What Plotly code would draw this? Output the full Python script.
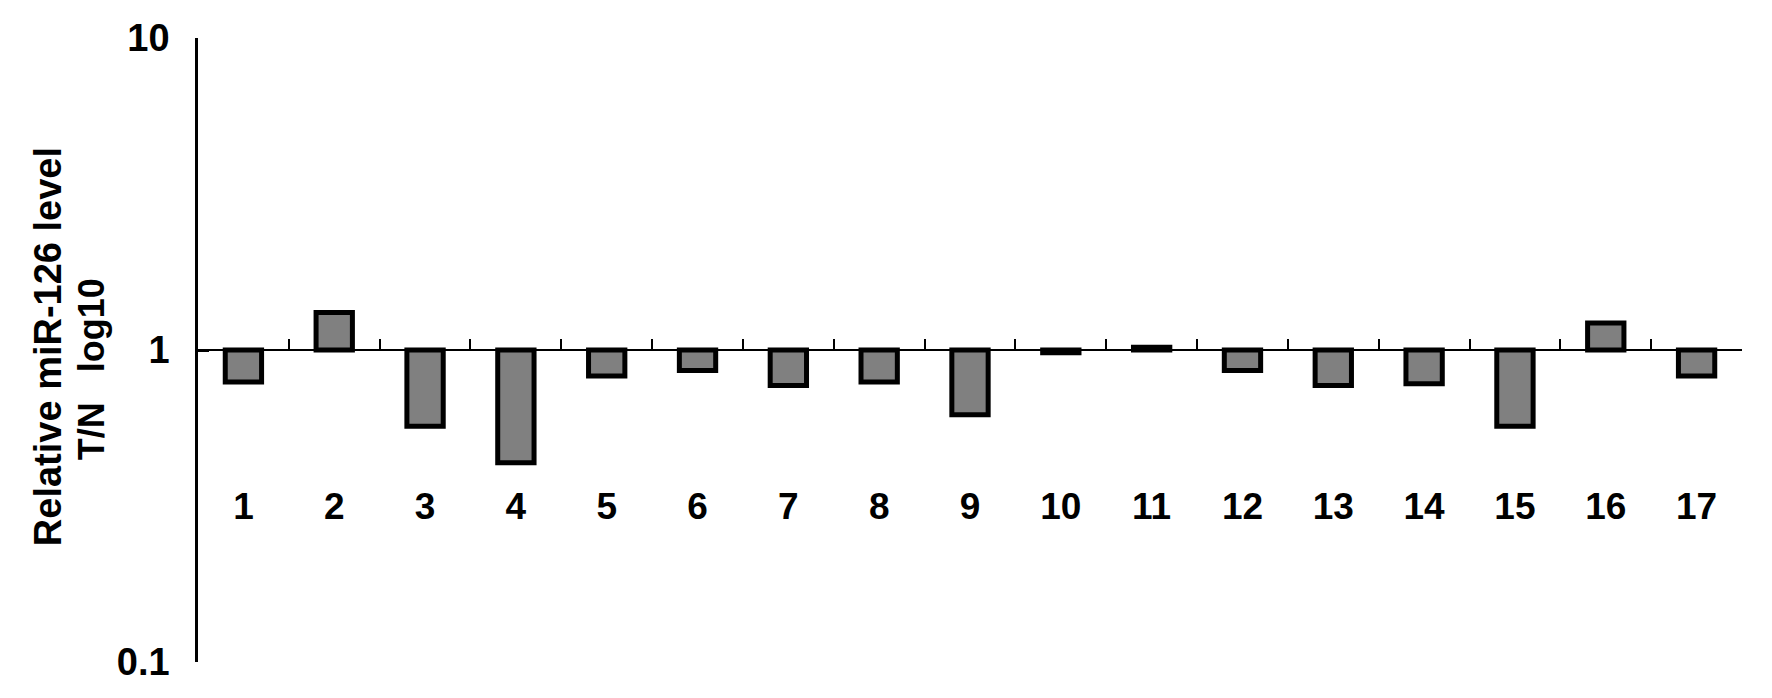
import numpy as np
import plotly.graph_objects as go

# Data
samples = [str(i) for i in range(1, 18)]
ratio_tn = [0.79, 1.32, 0.57, 0.435, 0.825, 0.86, 0.77, 0.79, 0.62,
            0.98, 1.02, 0.86, 0.77, 0.78, 0.57, 1.22, 0.825]
ytick_vals = [0.1, 1, 10]
ytick_text = ["0.1", "1", "10"]
ytitle_line1 = "Relative miR-126 level"
ytitle_line2 = "T/N   log10"

FONT = "Arial, 'Liberation Sans', Helvetica, sans-serif"

baseline = 1.0
vals = np.array(ratio_tn)

fig = go.Figure()
fig.add_trace(go.Bar(
    x=samples,
    y=vals - baseline,
    base=baseline,
    width=0.4,
    marker=dict(color="#808080", line=dict(color="#000000", width=5)),
    customdata=vals,
    hovertemplate="Sample %{x}: %{customdata}<extra></extra>",
    showlegend=False,
))

fig.update_layout(
    width=1772, height=698,
    margin=dict(l=198, r=30, t=38, b=36),
    paper_bgcolor="white", plot_bgcolor="white",
    font=dict(family=FONT, size=36, color="black"),
)

fig.update_yaxes(
    type="log", range=[-1, 1], automargin=False,
    tickvals=ytick_vals, ticktext=ytick_text,
    showline=True, linecolor="black", linewidth=2.5,
    ticks="inside", ticklen=11, tickwidth=2.5, tickcolor="black",
    showgrid=False, zeroline=False,
    tickfont=dict(family=FONT, size=38, color="black", weight="bold"),
    ticklabelstandoff=18,
)

fig.update_xaxes(
    type="category", automargin=False,
    anchor="free", position=0.5,
    showline=True, linecolor="black", linewidth=2,
    ticks="inside", ticklen=10, tickwidth=2, tickcolor="black",
    tickson="boundaries",
    showgrid=False, zeroline=False,
    tickfont=dict(family=FONT, size=37, color="black", weight="bold"),
    ticklabelstandoff=124,
)

fig.add_annotation(
    text="<b>" + ytitle_line1 + "</b>", textangle=-90,
    xref="paper", yref="paper", x=-0.0972, y=0.506,
    xanchor="center", yanchor="middle",
    showarrow=False, font=dict(family=FONT, size=38, color="black"),
)
fig.add_annotation(
    text="<b>" + ytitle_line2 + "</b>", textangle=-90,
    xref="paper", yref="paper", x=-0.069, y=0.47,
    xanchor="center", yanchor="middle",
    showarrow=False, font=dict(family=FONT, size=36, color="black"),
)

fig.write_html("out.html", config={"displayModeBar": False},
               post_script="document.body.style.margin='0px';")
